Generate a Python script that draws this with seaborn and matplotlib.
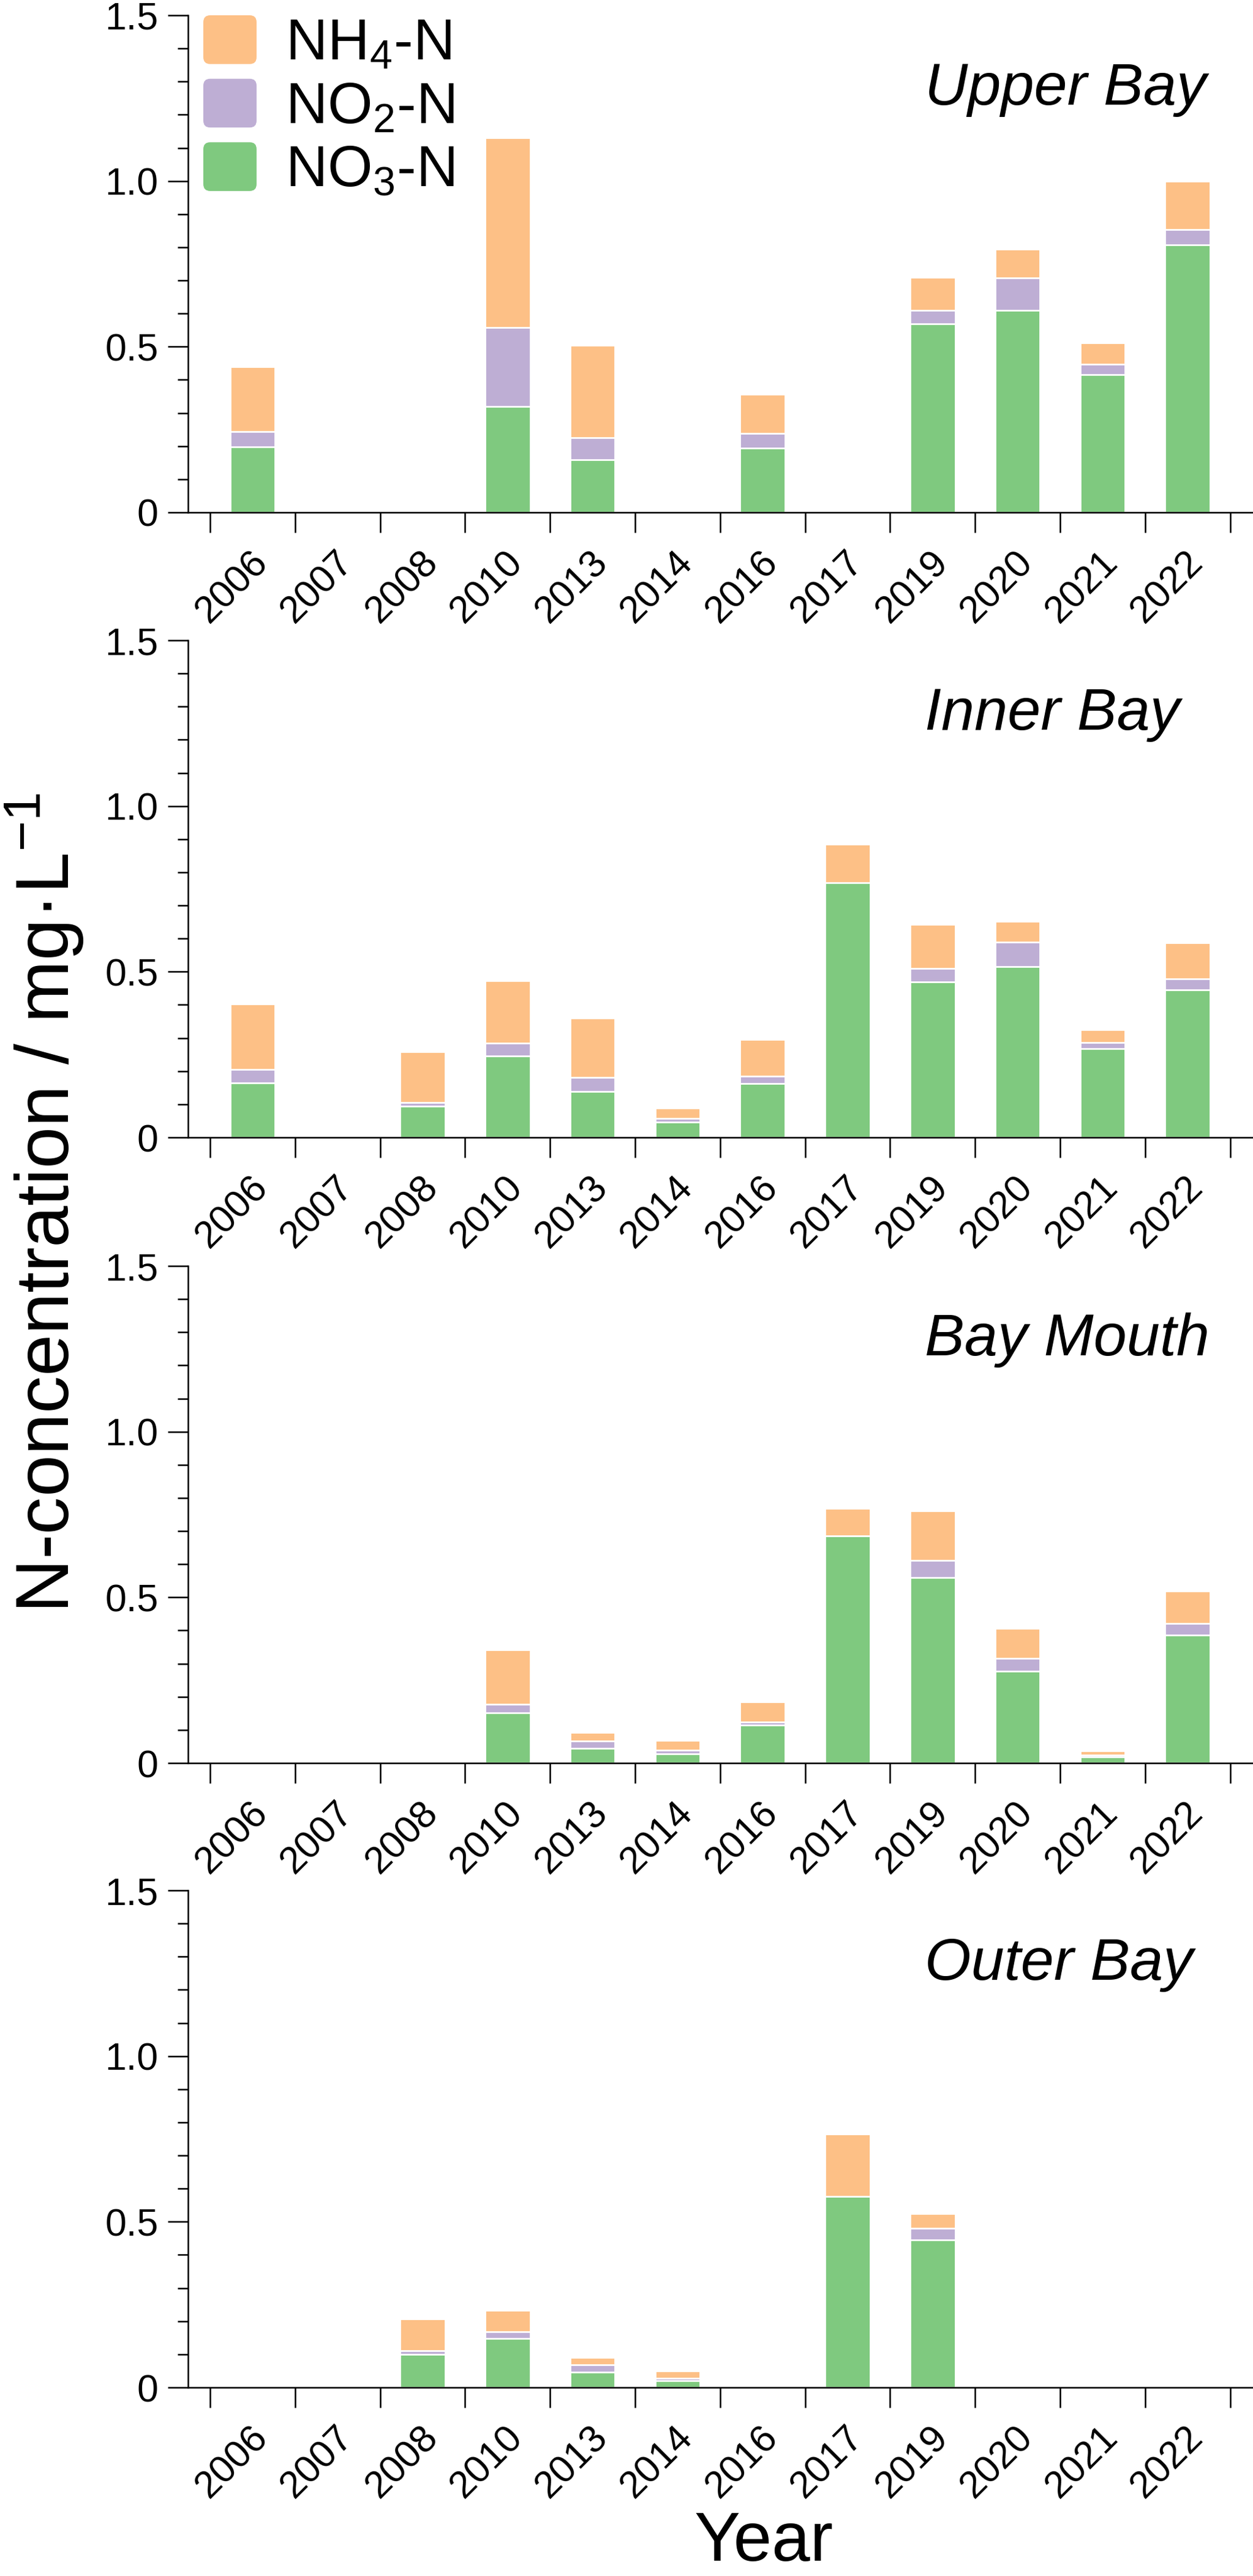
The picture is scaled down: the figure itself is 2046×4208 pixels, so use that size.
import numpy as np
import pandas as pd
import matplotlib
matplotlib.use("Agg")
import matplotlib.pyplot as plt
import seaborn as sns
from matplotlib.patches import Patch, FancyBboxPatch
from matplotlib.legend_handler import HandlerPatch

nan = np.nan

years = ["2006", "2007", "2008", "2010", "2013", "2014",
         "2016", "2017", "2019", "2020", "2021", "2022"]
regions = ["Upper Bay", "Inner Bay", "Bay Mouth", "Outer Bay"]

# N concentrations (mg/L), one list per region and species
upper_no3 = [0.198, nan, nan, 0.319, 0.159, nan, 0.194, nan, 0.569, 0.609, 0.415, 0.808]
upper_no2 = [0.045, nan, nan, 0.238, 0.066, nan, 0.045, nan, 0.041, 0.099, 0.032, 0.046]
upper_nh4 = [0.197, nan, nan, 0.574, 0.280, nan, 0.118, nan, 0.099, 0.086, 0.064, 0.146]

inner_no3 = [0.164, nan, 0.094, 0.246, 0.138, 0.047, 0.162, 0.769, 0.469, 0.515, 0.267, 0.446]
inner_no2 = [0.041, nan, 0.012, 0.038, 0.043, 0.011, 0.022, 0.000, 0.040, 0.074, 0.020, 0.032]
inner_nh4 = [0.198, nan, 0.152, 0.189, 0.179, 0.030, 0.112, 0.115, 0.134, 0.063, 0.039, 0.110]

mouth_no3 = [nan, nan, nan, 0.152, 0.045, 0.028, 0.114, 0.686, 0.559, 0.278, 0.019, 0.387]
mouth_no2 = [nan, nan, nan, 0.026, 0.021, 0.010, 0.010, 0.000, 0.052, 0.038, 0.005, 0.035]
mouth_nh4 = [nan, nan, nan, 0.163, 0.026, 0.031, 0.060, 0.083, 0.151, 0.090, 0.013, 0.097]

outer_no3 = [nan, nan, 0.100, 0.147, 0.047, 0.021, nan, 0.576, 0.445, nan, nan, nan]
outer_no2 = [nan, nan, 0.010, 0.022, 0.021, 0.007, nan, 0.000, 0.036, nan, nan, nan]
outer_nh4 = [nan, nan, 0.096, 0.063, 0.023, 0.022, nan, 0.188, 0.043, nan, nan, nan]

series = {
    "Upper Bay": (upper_no3, upper_no2, upper_nh4),
    "Inner Bay": (inner_no3, inner_no2, inner_nh4),
    "Bay Mouth": (mouth_no3, mouth_no2, mouth_nh4),
    "Outer Bay": (outer_no3, outer_no2, outer_nh4),
}

sns.set_style("ticks")
plt.rcParams["font.family"] = ["Liberation Sans", "DejaVu Sans"]
plt.rcParams["mathtext.fontset"] = "custom"
plt.rcParams["mathtext.rm"] = "Liberation Sans"
plt.rcParams["mathtext.it"] = "Liberation Sans:italic"
for key in ["axes.edgecolor", "xtick.color", "ytick.color", "text.color", "axes.labelcolor"]:
    plt.rcParams[key] = "black"

green, purple, orange = sns.color_palette("Accent")[:3]

W, H = 2046, 4208
fig = plt.figure(figsize=(W / 100, H / 100), dpi=100)

left_px = 307
panel_h = 812
zero_px = [837, 1858, 2880, 3900]


def rounded_patch(legend, orig_handle, xdescent, ydescent, width, height, fontsize):
    return FancyBboxPatch((-xdescent, -ydescent), width, height,
                          boxstyle="round,pad=0,rounding_size=8")


for i, region in enumerate(regions):
    ax = fig.add_axes([left_px / W, (H - zero_px[i]) / H, (W - left_px) / W, panel_h / H])
    no3, no2, nh4 = series[region]
    df = pd.DataFrame({"Year": years, "NO3": no3, "NO2": no2, "NH4": nh4})
    df["no2_top"] = df["NO3"] + df["NO2"]
    df["total"] = df["no2_top"] + df["NH4"]

    # stacked look: draw cumulative totals from largest to smallest
    for col, color in [("total", orange), ("no2_top", purple), ("NO3", green)]:
        sns.barplot(data=df, x="Year", y=col, order=years, color=color, width=0.53,
                    edgecolor="white", linewidth=2, saturation=1, errorbar=None, ax=ax)

    ax.set_xlim(-0.76, 11.77)
    ax.set_ylim(0, 1.5)
    sns.despine(ax=ax)
    ax.spines["left"].set_linewidth(1.8)
    ax.spines["bottom"].set_linewidth(1.8)
    ax.set_xlabel("")
    ax.set_ylabel("")

    ax.set_yticks([0, 0.5, 1.0, 1.5], labels=["0", "0.5", "1.0", "1.5"])
    ax.set_yticks(np.arange(0, 1.51, 0.1), minor=True)
    ax.tick_params(axis="y", which="major", length=24, width=1.8, labelsize=45, pad=11)
    ax.tick_params(axis="y", which="minor", length=12, width=1.8)

    ax.set_xticks(np.arange(-0.5, 12, 1), labels=[""] * 13)
    ax.set_xticks(np.arange(12) + 0.115, labels=years, minor=True)
    ax.tick_params(axis="x", which="major", length=24, width=1.8)
    ax.tick_params(axis="x", which="minor", length=0, labelsize=45, pad=52)
    for lbl in ax.get_xticklabels(minor=True):
        lbl.set_rotation(45)
        lbl.set_ha("right")
        lbl.set_va("center")
        lbl.set_rotation_mode("anchor")

    ax.text(0.692, 1.23, region, transform=ax.get_yaxis_transform(),
            fontsize=70, style="italic", ha="left", va="baseline")

    if i == 0:
        handles = [
            Patch(facecolor=orange, edgecolor="none", label=r"NH$_{4}$-N"),
            Patch(facecolor=purple, edgecolor="none", label=r"NO$_{2}$-N"),
            Patch(facecolor=green, edgecolor="none", label=r"NO$_{3}$-N"),
        ]
        ax.legend(handles=handles, loc="upper left", bbox_to_anchor=(0.0144, 1.0),
                  borderaxespad=0, borderpad=0, frameon=False, fontsize=68,
                  handlelength=0.92, handleheight=0.92, handletextpad=0.5,
                  labelspacing=0.12,
                  handler_map={Patch: HandlerPatch(patch_func=rounded_patch)})

fig.text(5 / W, 0.533, r"N-concentration / mg·L$^{-1}$", rotation=90,
         fontsize=88, ha="left", va="center")
fig.text(1247 / W, 1 / H, "Year", fontsize=81, ha="center", va="bottom")

fig.savefig("out.png", dpi=100)
